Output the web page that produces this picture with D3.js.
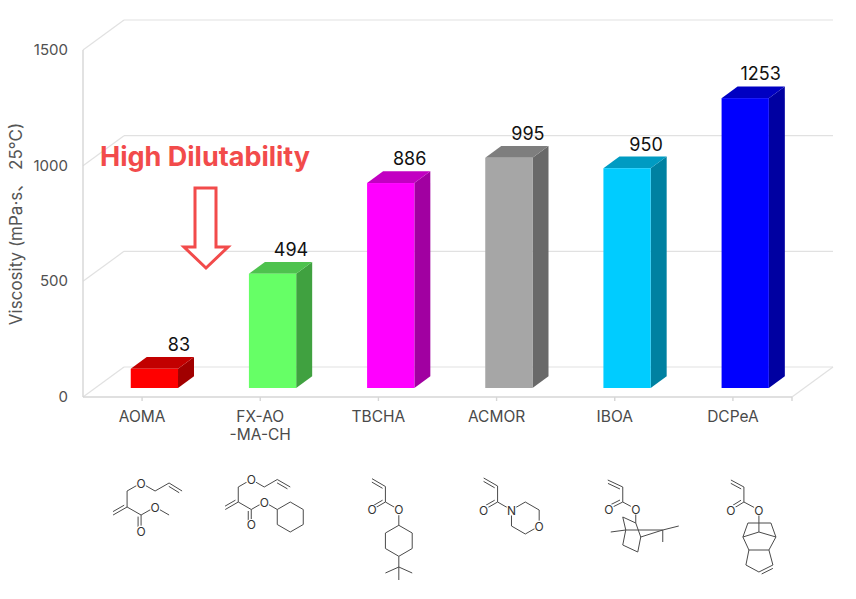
<!DOCTYPE html>
<html>
<head>
<meta charset="utf-8">
<script src="https://cdn.jsdelivr.net/npm/d3@7"></script>
<style>
  body { margin: 0; background: #fff; }
  svg { display: block; font-family: Inter, "Noto Sans", "Noto Sans CJK JP", sans-serif; }
</style>
</head>
<body>
<div id="chart"></div>
<script>
// data
const categories = ["AOMA", "FX-AO-MA-CH", "TBCHA", "ACMOR", "IBOA", "DCPeA"];
const categoryLines = [["AOMA"], ["FX-AO", "-MA-CH"], ["TBCHA"], ["ACMOR"], ["IBOA"], ["DCPeA"]];
const viscosity = [83, 494, 886, 995, 950, 1253];
const barColors = ["#ff0000", "#66ff66", "#ff00ff", "#a6a6a6", "#00ccff", "#0000ff"];
const yTicks = [0, 500, 1000, 1500];

const width = 856, height = 599;
const depth = {dx: 41, dy: -30};      // full floor depth
const barZ = [0.3, 0.69];             // bar front / back depth

const svg = d3.select("#chart").append("svg")
    .attr("width", width)
    .attr("height", height);

const x = d3.scaleBand().domain(categories).range([83, 792]);
const y = d3.scaleLinear().domain([0, 1500]).range([397, 50]);

// project a point of the front plane back into the box
function proj(px, py, z) {
    return [px + depth.dx * z, py + depth.dy * z];
}
function shade(c, k) {
    let r = d3.rgb(c);
    return d3.rgb(r.r * k, r.g * k, r.b * k).formatHex();
}

// ---- walls and grid
let grid = svg.append("g").attr("stroke", "#e1e1e1").attr("stroke-width", 1.2).attr("fill", "none");
yTicks.forEach(v => {
    let a = proj(x.range()[0], y(v), 1), b = proj(x.range()[1], y(v), 1);
    grid.append("line").attr("x1", a[0]).attr("y1", a[1]).attr("x2", b[0]).attr("y2", b[1]);
    grid.append("line").attr("x1", x.range()[0]).attr("y1", y(v)).attr("x2", a[0]).attr("y2", a[1]);
});
let fr = proj(x.range()[1], y(0), 1);
grid.append("line").attr("x1", x.range()[1]).attr("y1", y(0)).attr("x2", fr[0]).attr("y2", fr[1]);

let axis = svg.append("g").attr("stroke", "#d6d6d6").attr("stroke-width", 1.4);
axis.append("line").attr("x1", 83).attr("x2", 83).attr("y1", y(1500)).attr("y2", y(0));
axis.append("line").attr("x1", x.range()[0]).attr("x2", x.range()[1]).attr("y1", y(0)).attr("y2", y(0));
categories.forEach(c => {
    let cx = x(c) + x.bandwidth() / 2;
    axis.append("line").attr("x1", cx).attr("x2", cx).attr("y1", y(0)).attr("y2", y(0) + 4);
});
axis.append("line").attr("x1", x.range()[1]).attr("x2", x.range()[1]).attr("y1", y(0)).attr("y2", y(0) + 4);

// ---- y tick labels and title
svg.append("g").selectAll("text").data(yTicks).join("text")
    .attr("x", 68).attr("y", d => y(d) + 5)
    .attr("text-anchor", "end")
    .attr("font-size", 15).attr("fill", "#505050")
    .text(d => d);

svg.append("text")
    .attr("transform", "translate(22,224) rotate(-90)")
    .attr("text-anchor", "middle")
    .attr("font-size", 17).attr("fill", "#555")
    .text("Viscosity (mPa·s、 25°C)");

// ---- bars
const bw = x.bandwidth() * 0.4;
let bars = svg.append("g").selectAll("g").data(categories).join("g");
bars.each(function(c, i) {
    let g = d3.select(this);
    let cx = x(c) + x.bandwidth() / 2;
    let x0 = cx - bw / 2, x1 = cx + bw / 2;
    let yt = y(viscosity[i]), yb = y(0);
    let p = (px, py, z) => proj(px, py, z).join(",");
    let col = barColors[i];
    // side face
    g.append("polygon")
        .attr("points", [p(x1, yt, barZ[0]), p(x1, yt, barZ[1]), p(x1, yb, barZ[1]), p(x1, yb, barZ[0])].join(" "))
        .attr("fill", shade(col, 0.63));
    // top face
    g.append("polygon")
        .attr("points", [p(x0, yt, barZ[0]), p(x0, yt, barZ[1]), p(x1, yt, barZ[1]), p(x1, yt, barZ[0])].join(" "))
        .attr("fill", shade(col, 0.76));
    // front face
    let f0 = proj(x0, yt, barZ[0]), f1 = proj(x1, yb, barZ[0]);
    g.append("rect")
        .attr("x", f0[0]).attr("y", f0[1])
        .attr("width", f1[0] - f0[0]).attr("height", f1[1] - f0[1])
        .attr("fill", col);
    // value label
    let bt = proj(x1, yt, barZ[1]);
    g.append("text")
        .attr("x", cx + 48).attr("y", bt[1] - 6)
        .attr("text-anchor", "end")
        .attr("font-size", 18).attr("fill", "#111")
        .text(viscosity[i]);
});

// ---- category labels
let cl = svg.append("g").selectAll("text").data(categories).join("text")
    .attr("text-anchor", "middle")
    .attr("font-size", 15.5).attr("fill", "#4a4a4a")
    .attr("x", c => x(c) + x.bandwidth() / 2)
    .attr("y", 422);
cl.each(function(c, i) {
    d3.select(this).selectAll("tspan").data(categoryLines[i]).join("tspan")
        .attr("x", x(c) + x.bandwidth() / 2)
        .attr("dy", (d, j) => j === 0 ? 0 : 18)
        .text(d => d);
});

// ---- annotation
const red = "#f24b4b";
svg.append("text")
    .attr("x", 100).attr("y", 166)
    .attr("font-size", 27).attr("font-weight", 700).attr("fill", red)
    .text("High Dilutability");
svg.append("path")
    .attr("d", "M195,188 H216 V247 H228 L206,268 L184,247 H195 Z")
    .attr("fill", "#fff").attr("stroke", red).attr("stroke-width", 3);

// ---- structures (drawn relative to each category's tick, y = 500)
const structures = {
    "AOMA": {
        atoms: {a:[-15,7], b:[-15,-9], o1:[-1,-17], d:[13,-9], e:[27,-17], f:[40,-9], g:[-29,15],
                h:[-1,15], o2:[-1,31], o3:[13,7], k:[27,15]},
        bonds: [["a","b"],["b","o1"],["o1","d"],["d","e"],["e","f",2],["a","g",2],["a","h"],["h","o2",2],["h","o3"],["o3","k"]],
        labels: {o1:"O", o2:"O", o3:"O"}
    },
    "FX-AO-MA-CH": {
        atoms: {a:[-22,2], b:[-22,-13], o1:[-9,-20.5], d:[4,-13], e:[17,-20.5], f:[30,-13], g:[-35,9.5],
                h:[-9,9.5], o2:[-9,24.5], o3:[4,2], r1:[17,9.5], r2:[30,2], r3:[43,9.5], r4:[43,24.5], r5:[30,32], r6:[17,24.5]},
        bonds: [["a","b"],["b","o1"],["o1","d"],["d","e"],["e","f",2],["a","g",2],["a","h"],["h","o2",2],["h","o3"],["o3","r1"],
                ["r1","r2"],["r2","r3"],["r3","r4"],["r4","r5"],["r5","r6"],["r6","r1"]],
        labels: {o1:"O", o2:"O", o3:"O"}
    },
    "TBCHA": {
        atoms: {c:[7,2], ch:[7,-13.5], ch2:[-6.4,-21.3], ox:[-6.4,9.8], oe:[20.4,9.8], r1:[20.4,25.3], r2:[33.8,33],
                r3:[33.8,48.5], r4:[20.4,56.3], r5:[7,48.5], r6:[7,33], tq:[20.4,67], m1:[7,73], m2:[33.8,73], m3:[20.4,80]},
        bonds: [["ch2","ch",2],["ch","c"],["c","ox",2],["c","oe"],["oe","r1"],["r1","r2"],["r2","r3"],["r3","r4"],["r4","r5"],
                ["r5","r6"],["r6","r1"],["r4","tq"],["tq","m1"],["tq","m2"],["tq","m3"]],
        labels: {ox:"O", oe:"O"}
    },
    "ACMOR": {
        atoms: {c:[1,2], ch:[1,-14], ch2:[-12.9,-22], ox:[-12.9,10], n:[14.9,10], q1:[28.7,2], q2:[42.6,10],
                oo:[42.6,26], q4:[28.7,34], q5:[14.9,26]},
        bonds: [["ch2","ch",2],["ch","c"],["c","ox",2],["c","n"],["n","q1"],["q1","q2"],["q2","oo"],["oo","q4"],["q4","q5"],["q5","n"]],
        labels: {ox:"O", n:"N", oo:"O"}
    },
    "IBOA": {
        atoms: {ch2:[-7,-20], ch:[8,-13], c:[8,2], ox:[-6,9], oe:[21,9], co:[21,23], ctl:[8,17], c1:[11,30], me1:[-4,32],
                c7:[48,30], me2:[64,26], me3:[48,42], c4:[26,37], b1:[8,45], b2:[23,52]},
        bonds: [["ch2","ch",2],["ch","c"],["c","ox",2],["c","oe"],["oe","co"],["co","ctl"],["ctl","c1"],["c1","me1"],["c1","c7"],
                ["c7","me2"],["c7","me3"],["co","c4"],["c4","c7"],["c1","b1"],["b1","b2"],["b2","c4"]],
        labels: {ox:"O", oe:"O"}
    },
    "DCPeA": {
        atoms: {ch2:[-2,-20], ch:[11,-13], c:[11,2], ox:[-2,10], oe:[26,10], t1:[15,23], t2:[38,23], l:[10,37], r:[43,37],
                m:[26,32], bl:[16,50], br:[36,50], p1:[13,65], p2:[26,72], p3:[40,65]},
        bonds: [["ch2","ch",2],["ch","c"],["c","ox",2],["c","oe"],["oe","m"],["l","t1"],["t1","t2"],["t2","r"],["l","m"],["m","r"],
                ["l","bl"],["bl","br"],["br","r"],["bl","p1"],["p1","p2"],["p2","p3",2],["p3","br"]],
        labels: {ox:"O", oe:"O"}
    }
};

let mols = svg.append("g").attr("stroke", "#4a4a4a").attr("stroke-width", 1).attr("fill", "none");
categories.forEach(c => {
    let s = structures[c];
    let ox = x(c) + x.bandwidth() / 2, oy = 500;
    let g = mols.append("g").attr("transform", `translate(${ox},${oy})`);
    s.bonds.forEach(bd => {
        let a = s.atoms[bd[0]], b = s.atoms[bd[1]];
        g.append("line").attr("x1", a[0]).attr("y1", a[1]).attr("x2", b[0]).attr("y2", b[1]);
        if (bd[2] === 2) {
            let dx = b[0] - a[0], dy = b[1] - a[1], L = Math.hypot(dx, dy);
            let nx = -dy / L * 3, ny = dx / L * 3;
            g.append("line")
                .attr("x1", a[0] + nx + dx * 0.1).attr("y1", a[1] + ny + dy * 0.1)
                .attr("x2", b[0] + nx - dx * 0.1).attr("y2", b[1] + ny - dy * 0.1);
        }
    });
    Object.keys(s.labels).forEach(k => {
        let a = s.atoms[k];
        g.append("circle").attr("cx", a[0]).attr("cy", a[1]).attr("r", 5.5).attr("fill", "#fff").attr("stroke", "none");
        g.append("text").attr("x", a[0]).attr("y", a[1] + 4.5)
            .attr("text-anchor", "middle").attr("font-size", 12)
            .attr("fill", "#333").attr("stroke", "none")
            .text(s.labels[k]);
    });
});
</script>
</body>
</html>
